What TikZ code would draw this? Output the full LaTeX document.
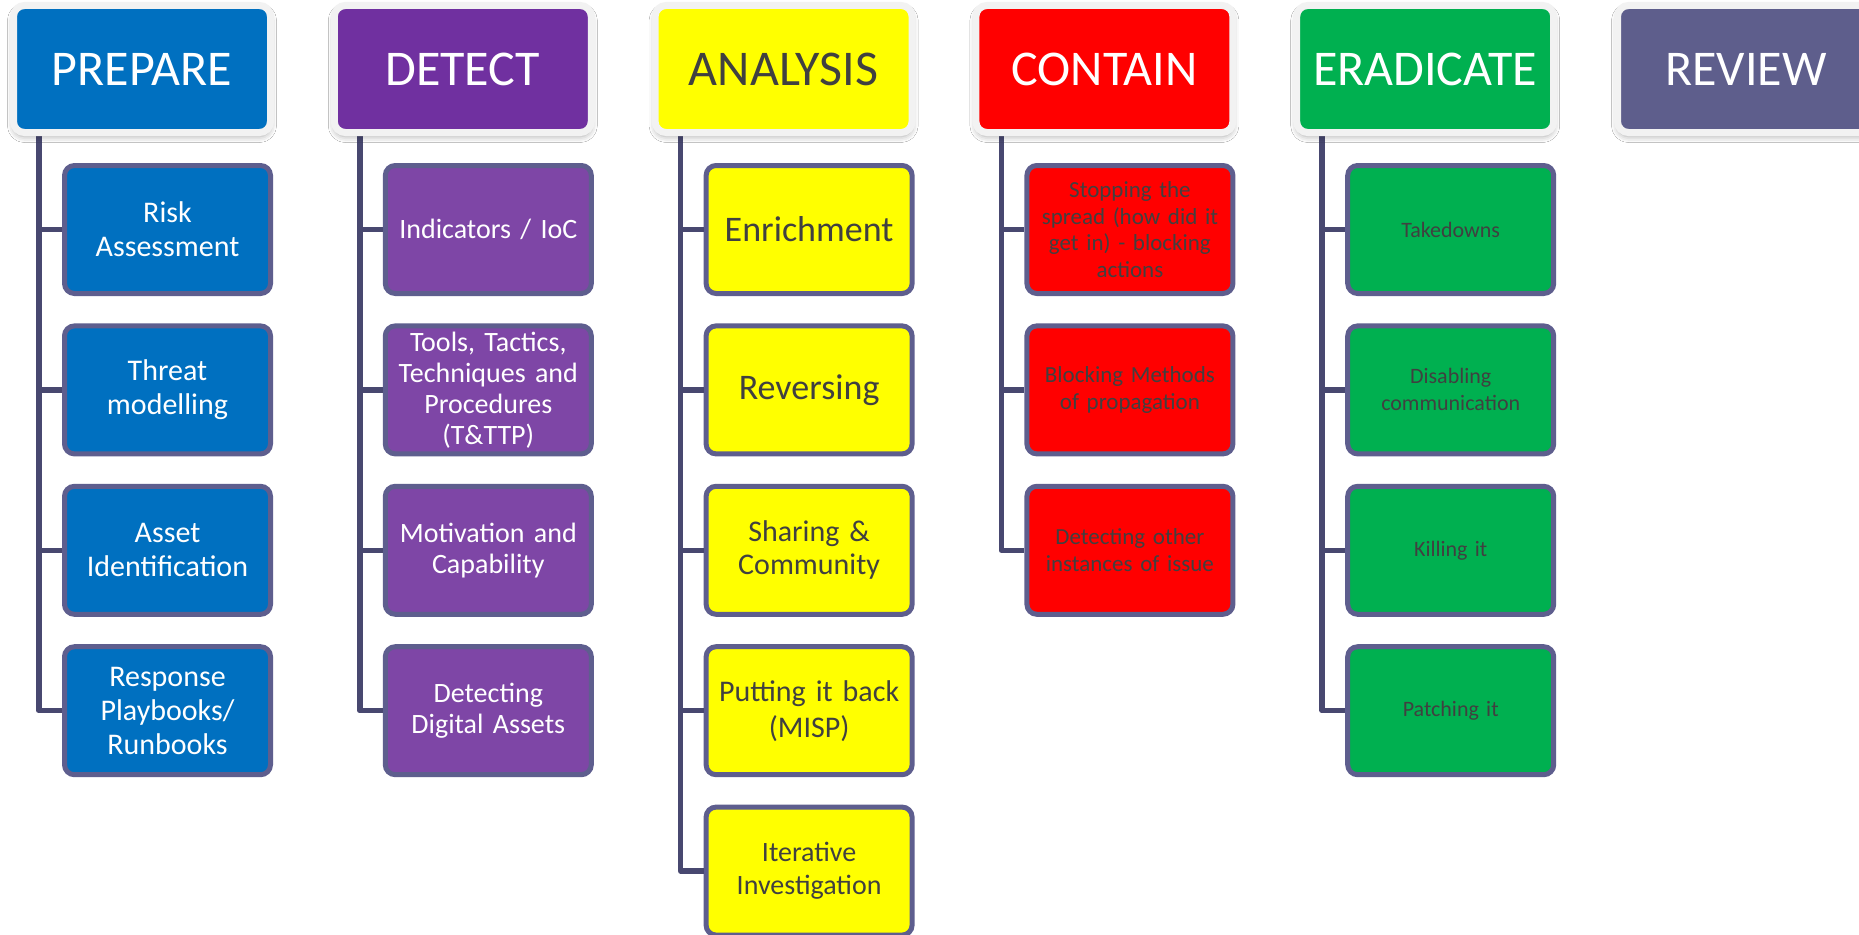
\documentclass[tikz,border=0pt]{standalone}
\usepackage{fontspec}
\setmainfont{Carlito}
\usetikzlibrary{shadows.blur}

\definecolor{frame}{RGB}{242,242,242}
\definecolor{kidborder}{RGB}{94,94,142}
\definecolor{connc}{RGB}{72,72,112}
\definecolor{darktext}{RGB}{64,64,64}
\definecolor{prepblue}{RGB}{0,112,192}
\definecolor{detpurple}{RGB}{112,48,160}
\definecolor{detkid}{RGB}{126,70,166}
\definecolor{anyellow}{RGB}{255,255,0}
\definecolor{conred}{RGB}{255,0,0}
\definecolor{eragreen}{RGB}{0,176,80}
\definecolor{revslate}{RGB}{94,94,140}

\newcommand{\fs}[2]{\fontsize{#1}{#2}\selectfont}

\tikzset{
  hdr/.style={rounded corners=11pt, draw=frame, line width=7pt,
    minimum width=257pt, minimum height=127pt, inner sep=0pt,
    font=\fs{50}{60},
    blur shadow={shadow xshift=0pt, shadow yshift=-4pt,
      shadow blur radius=6pt, shadow opacity=35}},
  kid/.style={rounded corners=10pt, draw=kidborder, line width=5pt,
    minimum width=206pt, minimum height=128pt, inner sep=0pt,
    text width=200pt, align=center},
  conn/.style={draw=connc, line width=5.5pt, line join=round},
}

\begin{document}
\begin{tikzpicture}[x=1pt,y=-1pt]
\useasboundingbox (0,0) rectangle (1859,934);
\clip (0,0) rectangle (1859,934);
\fill[white] (0,0) rectangle (1859,934);

% trunk tops under each phase header
\coordinate (tP) at (39,134);
\coordinate (tD) at (359.8,134);
\coordinate (tA) at (680.6,134);
\coordinate (tC) at (1001.4,134);
\coordinate (tE) at (1322.2,134);

% PREPARE items
\node[kid, fill=prepblue, text=white, font=\fs{30}{34}] (p1) at (167.5,229.5) {Risk\\Assessment};
\node[kid, fill=prepblue, text=white, font=\fs{30}{34}] (p2) at (167.5,389.9) {Threat\\modelling};
\node[kid, fill=prepblue, text=white, font=\fs{30}{34}] (p3) at (167.5,550.3) {Asset\\Identification};
\node[kid, fill=prepblue, text=white, font=\fs{30}{34}] (p4) at (167.5,710.7) {Response\\Playbooks/\\Runbooks};

% DETECT items
\node[kid, fill=detkid, text=white, font=\fs{28}{31}] (d1) at (488.3,229.5) {Indicators / IoC};
\node[kid, fill=detkid, text=white, font=\fs{28}{31}] (d2) at (488.3,389.9) {Tools, Tactics,\\Techniques and\\Procedures\\(T\&TTP)};
\node[kid, fill=detkid, text=white, font=\fs{28}{31}] (d3) at (488.3,550.3) {Motivation and\\Capability};
\node[kid, fill=detkid, text=white, font=\fs{28}{31}] (d4) at (488.3,710.7) {Detecting\\Digital Assets};

% ANALYSIS items
\node[kid, fill=anyellow, text=darktext, font=\fs{36}{40}] (a1) at (809.1,229.5) {Enrichment};
\node[kid, fill=anyellow, text=darktext, font=\fs{36}{40}] (a2) at (809.1,389.9) {Reversing};
\node[kid, fill=anyellow, text=darktext, font=\fs{30}{33}] (a3) at (809.1,550.3) {Sharing \&\\Community};
\node[kid, fill=anyellow, text=darktext, font=\fs{30}{36}] (a4) at (809.1,710.7) {Putting it back\\(MISP)};
\node[kid, fill=anyellow, text=darktext, font=\fs{28}{33}] (a5) at (809.1,871.1) {Iterative\\Investigation};

% CONTAIN items
\node[kid, fill=conred, text=darktext, font=\fs{23}{26.5}] (c1) at (1129.9,229.5) {Stopping the\\spread (how did it\\get in) - blocking\\actions};
\node[kid, fill=conred, text=darktext, font=\fs{23}{26.5}] (c2) at (1129.9,389.9) {Blocking Methods\\of propagation};
\node[kid, fill=conred, text=darktext, font=\fs{23}{26.5}] (c3) at (1129.9,550.3) {Detecting other\\instances of issue};

% ERADICATE items
\node[kid, fill=eragreen, text=darktext, font=\fs{22}{27}] (e1) at (1450.7,229.5) {Takedowns};
\node[kid, fill=eragreen, text=darktext, font=\fs{22}{27}] (e2) at (1450.7,389.9) {Disabling\\communication};
\node[kid, fill=eragreen, text=darktext, font=\fs{22}{27}] (e3) at (1450.7,550.3) {Killing it};
\node[kid, fill=eragreen, text=darktext, font=\fs{22}{27}] (e4) at (1450.7,710.7) {Patching it};

% connectors: trunk down, then across to each item
\begin{scope}[on background layer/.style={}]
\foreach \t/\k in {tP/p1,tP/p2,tP/p3,tP/p4,
                   tD/d1,tD/d2,tD/d3,tD/d4,
                   tA/a1,tA/a2,tA/a3,tA/a4,tA/a5,
                   tC/c1,tC/c2,tC/c3,
                   tE/e1,tE/e2,tE/e3,tE/e4}
  \draw[conn] (\t) |- (\k.west);
\end{scope}

% phase headers
\node[hdr, fill=prepblue, text=white] (hP) at (142,69) {PREPARE};
\node[hdr, fill=detpurple, text=white] (hD) at (462.8,69) {DETECT};
\node[hdr, fill=anyellow, text=darktext] (hA) at (783.6,69) {ANALYSIS};
\node[hdr, fill=conred, text=white] (hC) at (1104.4,69) {CONTAIN};
\node[hdr, fill=eragreen, text=white] (hE) at (1425.2,69) {ERADICATE};
\node[hdr, fill=revslate, text=white] (hR) at (1746,69) {REVIEW};
\end{tikzpicture}
\end{document}
